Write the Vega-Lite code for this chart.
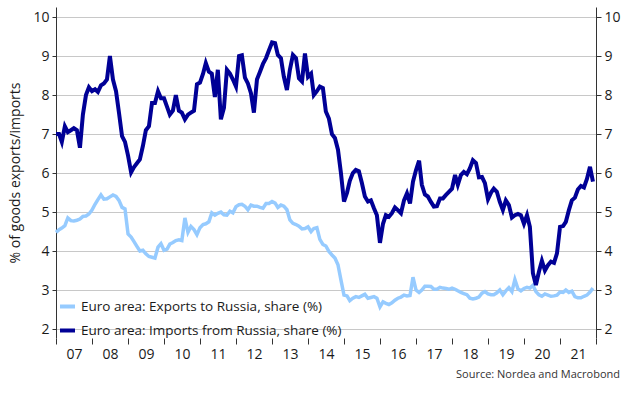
{
  "$schema": "https://vega.github.io/schema/vega-lite/v6.json",
  "width": 540,
  "height": 331,
  "padding": {"left": 8, "top": 7, "right": 5, "bottom": 5},
  "background": "white",
  "config": {
    "font": "Open Sans",
    "view": {"stroke": null},
    "axis": {"labelFontSize": 14, "labelColor": "#1a1a1a", "titleFontSize": 14, "titleFontWeight": "normal", "titleColor": "#1a1a1a", "domainColor": "#333333", "tickColor": "#333333"}
  },
  "title": {"text": "Source: Nordea and Macrobond", "orient": "bottom", "anchor": "end", "frame": "bounds", "fontSize": 11, "fontWeight": "normal", "color": "#333333", "offset": 8},
  "data": {"values": [
    {"d":"2007-01-01","e":4.48,"i":7.0},{"d":"2007-02-01","e":4.55,"i":7.0},{"d":"2007-03-01","e":4.59,"i":6.8},{"d":"2007-04-01","e":4.65,"i":7.2},{"d":"2007-05-01","e":4.85,"i":7.05},{"d":"2007-06-01","e":4.78,"i":7.1},{"d":"2007-07-01","e":4.77,"i":7.15},{"d":"2007-08-01","e":4.79,"i":7.1},{"d":"2007-09-01","e":4.82,"i":6.65},{"d":"2007-10-01","e":4.89,"i":7.5},{"d":"2007-11-01","e":4.9,"i":8.0},{"d":"2007-12-01","e":4.95,"i":8.2},
    {"d":"2008-01-01","e":5.05,"i":8.1},{"d":"2008-02-01","e":5.2,"i":8.15},{"d":"2008-03-01","e":5.32,"i":8.08},{"d":"2008-04-01","e":5.44,"i":8.25},{"d":"2008-05-01","e":5.33,"i":8.3},{"d":"2008-06-01","e":5.34,"i":8.4},{"d":"2008-07-01","e":5.39,"i":9.0},{"d":"2008-08-01","e":5.44,"i":8.4},{"d":"2008-09-01","e":5.4,"i":8.1},{"d":"2008-10-01","e":5.3,"i":7.55},{"d":"2008-11-01","e":5.12,"i":6.95},{"d":"2008-12-01","e":5.08,"i":6.8},
    {"d":"2009-01-01","e":4.44,"i":6.45},{"d":"2009-02-01","e":4.36,"i":6.02},{"d":"2009-03-01","e":4.25,"i":6.15},{"d":"2009-04-01","e":4.12,"i":6.25},{"d":"2009-05-01","e":4.0,"i":6.35},{"d":"2009-06-01","e":4.02,"i":6.7},{"d":"2009-07-01","e":3.93,"i":7.1},{"d":"2009-08-01","e":3.86,"i":7.2},{"d":"2009-09-01","e":3.84,"i":7.8},{"d":"2009-10-01","e":3.82,"i":7.8},{"d":"2009-11-01","e":4.1,"i":8.1},{"d":"2009-12-01","e":4.19,"i":7.92},
    {"d":"2010-01-01","e":4.02,"i":7.92},{"d":"2010-02-01","e":4.05,"i":7.7},{"d":"2010-03-01","e":4.18,"i":7.5},{"d":"2010-04-01","e":4.22,"i":7.6},{"d":"2010-05-01","e":4.27,"i":8.0},{"d":"2010-06-01","e":4.29,"i":7.6},{"d":"2010-07-01","e":4.27,"i":7.55},{"d":"2010-08-01","e":4.85,"i":7.38},{"d":"2010-09-01","e":4.48,"i":7.5},{"d":"2010-10-01","e":4.63,"i":7.55},{"d":"2010-11-01","e":4.55,"i":7.6},{"d":"2010-12-01","e":4.42,"i":8.28},
    {"d":"2011-01-01","e":4.6,"i":8.32},{"d":"2011-02-01","e":4.68,"i":8.55},{"d":"2011-03-01","e":4.7,"i":8.82},{"d":"2011-04-01","e":4.75,"i":8.6},{"d":"2011-05-01","e":4.98,"i":8.55},{"d":"2011-06-01","e":4.92,"i":7.95},{"d":"2011-07-01","e":4.97,"i":8.65},{"d":"2011-08-01","e":5.0,"i":7.38},{"d":"2011-09-01","e":4.93,"i":7.67},{"d":"2011-10-01","e":4.92,"i":8.65},{"d":"2011-11-01","e":5.02,"i":8.55},{"d":"2011-12-01","e":4.98,"i":8.4},
    {"d":"2012-01-01","e":5.14,"i":8.22},{"d":"2012-02-01","e":5.19,"i":9.0},{"d":"2012-03-01","e":5.2,"i":9.02},{"d":"2012-04-01","e":5.15,"i":8.45},{"d":"2012-05-01","e":5.06,"i":8.3},{"d":"2012-06-01","e":5.18,"i":8.05},{"d":"2012-07-01","e":5.15,"i":7.55},{"d":"2012-08-01","e":5.15,"i":8.4},{"d":"2012-09-01","e":5.12,"i":8.6},{"d":"2012-10-01","e":5.1,"i":8.8},{"d":"2012-11-01","e":5.22,"i":8.95},{"d":"2012-12-01","e":5.22,"i":9.15},
    {"d":"2013-01-01","e":5.27,"i":9.35},{"d":"2013-02-01","e":5.23,"i":9.33},{"d":"2013-03-01","e":5.12,"i":9.03},{"d":"2013-04-01","e":5.18,"i":8.95},{"d":"2013-05-01","e":5.15,"i":8.47},{"d":"2013-06-01","e":5.06,"i":8.13},{"d":"2013-07-01","e":4.8,"i":8.65},{"d":"2013-08-01","e":4.71,"i":9.03},{"d":"2013-09-01","e":4.68,"i":8.95},{"d":"2013-10-01","e":4.64,"i":8.43},{"d":"2013-11-01","e":4.57,"i":8.35},{"d":"2013-12-01","e":4.58,"i":9.07},
    {"d":"2014-01-01","e":4.62,"i":8.47},{"d":"2014-02-01","e":4.5,"i":8.55},{"d":"2014-03-01","e":4.58,"i":8.0},{"d":"2014-04-01","e":4.6,"i":8.1},{"d":"2014-05-01","e":4.3,"i":8.22},{"d":"2014-06-01","e":4.17,"i":8.18},{"d":"2014-07-01","e":4.13,"i":7.58},{"d":"2014-08-01","e":3.99,"i":7.4},{"d":"2014-09-01","e":3.9,"i":7.0},{"d":"2014-10-01","e":3.82,"i":6.9},{"d":"2014-11-01","e":3.65,"i":6.6},{"d":"2014-12-01","e":3.26,"i":6.0},
    {"d":"2015-01-01","e":2.87,"i":5.27},{"d":"2015-02-01","e":2.85,"i":5.5},{"d":"2015-03-01","e":2.73,"i":5.8},{"d":"2015-04-01","e":2.79,"i":6.0},{"d":"2015-05-01","e":2.83,"i":6.08},{"d":"2015-06-01","e":2.81,"i":6.05},{"d":"2015-07-01","e":2.85,"i":5.75},{"d":"2015-08-01","e":2.89,"i":5.4},{"d":"2015-09-01","e":2.79,"i":5.27},{"d":"2015-10-01","e":2.81,"i":5.3},{"d":"2015-11-01","e":2.83,"i":5.1},{"d":"2015-12-01","e":2.79,"i":4.92},
    {"d":"2016-01-01","e":2.57,"i":4.21},{"d":"2016-02-01","e":2.7,"i":4.7},{"d":"2016-03-01","e":2.66,"i":4.92},{"d":"2016-04-01","e":2.63,"i":4.88},{"d":"2016-05-01","e":2.67,"i":4.97},{"d":"2016-06-01","e":2.74,"i":5.12},{"d":"2016-07-01","e":2.79,"i":5.05},{"d":"2016-08-01","e":2.82,"i":4.97},{"d":"2016-09-01","e":2.87,"i":5.3},{"d":"2016-10-01","e":2.85,"i":5.48},{"d":"2016-11-01","e":2.86,"i":5.22},{"d":"2016-12-01","e":3.33,"i":5.78},
    {"d":"2017-01-01","e":3.0,"i":6.08},{"d":"2017-02-01","e":2.94,"i":6.32},{"d":"2017-03-01","e":3.0,"i":5.7},{"d":"2017-04-01","e":3.1,"i":5.45},{"d":"2017-05-01","e":3.1,"i":5.4},{"d":"2017-06-01","e":3.09,"i":5.26},{"d":"2017-07-01","e":3.02,"i":5.14},{"d":"2017-08-01","e":3.02,"i":5.15},{"d":"2017-09-01","e":3.07,"i":5.35},{"d":"2017-10-01","e":3.05,"i":5.35},{"d":"2017-11-01","e":3.04,"i":5.44},{"d":"2017-12-01","e":3.02,"i":5.52},
    {"d":"2018-01-01","e":3.05,"i":5.6},{"d":"2018-02-01","e":3.02,"i":5.95},{"d":"2018-03-01","e":2.98,"i":5.7},{"d":"2018-04-01","e":2.94,"i":5.95},{"d":"2018-05-01","e":2.91,"i":6.03},{"d":"2018-06-01","e":2.88,"i":5.97},{"d":"2018-07-01","e":2.79,"i":6.12},{"d":"2018-08-01","e":2.77,"i":6.33},{"d":"2018-09-01","e":2.79,"i":6.26},{"d":"2018-10-01","e":2.82,"i":5.89},{"d":"2018-11-01","e":2.92,"i":5.9},{"d":"2018-12-01","e":2.96,"i":5.74},
    {"d":"2019-01-01","e":2.9,"i":5.33},{"d":"2019-02-01","e":2.88,"i":5.5},{"d":"2019-03-01","e":2.88,"i":5.6},{"d":"2019-04-01","e":2.93,"i":5.52},{"d":"2019-05-01","e":3.0,"i":5.26},{"d":"2019-06-01","e":2.88,"i":5.05},{"d":"2019-07-01","e":2.98,"i":5.3},{"d":"2019-08-01","e":3.06,"i":5.18},{"d":"2019-09-01","e":2.96,"i":4.86},{"d":"2019-10-01","e":3.27,"i":4.92},{"d":"2019-11-01","e":3.03,"i":4.95},{"d":"2019-12-01","e":2.98,"i":4.92},
    {"d":"2020-01-01","e":3.04,"i":4.7},{"d":"2020-02-01","e":3.07,"i":4.92},{"d":"2020-03-01","e":3.05,"i":4.62},{"d":"2020-04-01","e":3.12,"i":3.43},{"d":"2020-05-01","e":2.96,"i":3.13},{"d":"2020-06-01","e":2.88,"i":3.47},{"d":"2020-07-01","e":2.84,"i":3.75},{"d":"2020-08-01","e":2.9,"i":3.5},{"d":"2020-09-01","e":2.87,"i":3.64},{"d":"2020-10-01","e":2.84,"i":3.73},{"d":"2020-11-01","e":2.85,"i":3.7},{"d":"2020-12-01","e":2.87,"i":3.94},
    {"d":"2021-01-01","e":2.95,"i":4.62},{"d":"2021-02-01","e":2.94,"i":4.64},{"d":"2021-03-01","e":3.0,"i":4.75},{"d":"2021-04-01","e":2.94,"i":5.05},{"d":"2021-05-01","e":2.97,"i":5.3},{"d":"2021-06-01","e":2.83,"i":5.37},{"d":"2021-07-01","e":2.8,"i":5.58},{"d":"2021-08-01","e":2.8,"i":5.67},{"d":"2021-09-01","e":2.84,"i":5.63},{"d":"2021-10-01","e":2.87,"i":5.85},{"d":"2021-11-01","e":2.95,"i":6.16},{"d":"2021-12-01","e":3.05,"i":5.78}
  ]},
  "encoding": {
    "x": {
      "field": "d", "type": "temporal",
      "scale": {"type": "utc", "domain": [{"year": 2007, "month": 1, "date": 1, "utc": true}, {"year": 2022, "month": 1, "date": 1, "utc": true}]},
      "axis": {"title": null, "tickCount": {"interval": "year", "step": 1}, "labelExpr": "utcyear(datum.value) >= 2022 ? '' : utcFormat(datum.value, '%y')", "labelOffset": 18, "labelFlush": false, "labelOverlap": false, "labelBound": false, "domain": false, "grid": false, "tickSize": 6, "labelPadding": 3}
    }
  },
  "layer": [
    {
      "mark": {"type": "line", "strokeWidth": 3.5},
      "encoding": {
        "y": {"field": "e", "type": "quantitative", "scale": {"domain": [1.77, 10.26], "nice": false, "zero": false},
              "axis": {"title": "% of goods exports/imports", "values": [2,3,4,5,6,7,8,9,10], "grid": true, "gridColor": "#c8c8c8", "gridWidth": 1, "tickSize": 4, "labelPadding": 3, "titlePadding": 10}},
        "color": {"datum": "Euro area: Exports to Russia, share (%)", "type": "nominal",
                  "scale": {"domain": ["Euro area: Exports to Russia, share (%)", "Euro area: Imports from Russia, share (%)"], "range": ["#96CBFF", "#000096"]},
                  "legend": {"title": null, "orient": "none", "legendX": 2, "legendY": 290, "symbolType": "stroke", "symbolSize": 225, "symbolStrokeWidth": 4, "labelFontSize": 13.5, "labelLimit": 0, "labelColor": "#1a1a1a", "rowPadding": 6, "labelOffset": 4}}
      }
    },
    {
      "mark": {"type": "line", "strokeWidth": 4},
      "encoding": {
        "y": {"field": "i", "type": "quantitative", "scale": {"domain": [1.77, 10.26], "nice": false, "zero": false},
              "axis": {"orient": "right", "title": null, "values": [2,3,4,5,6,7,8,9,10], "grid": false, "tickSize": 5, "labelPadding": 3}},
        "color": {"datum": "Euro area: Imports from Russia, share (%)", "type": "nominal"}
      }
    }
  ],
  "resolve": {"scale": {"y": "independent"}}
}
